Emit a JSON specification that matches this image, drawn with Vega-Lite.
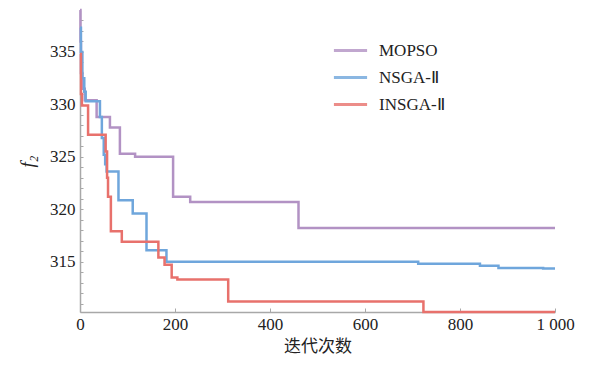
{
  "$schema": "https://vega.github.io/schema/vega-lite/v6.json",
  "autosize": {"type": "none"},
  "width": 475,
  "height": 302,
  "padding": {"left": 80, "top": 10, "right": 34, "bottom": 55},
  "background": "white",
  "config": {
    "view": {"stroke": null},
    "font": "Times New Roman, Liberation Serif, serif"
  },
  "data": {
    "values": [
      {"alg": "MOPSO", "iter": 0, "f2": 339},
      {"alg": "MOPSO", "iter": 1, "f2": 336},
      {"alg": "MOPSO", "iter": 2, "f2": 333},
      {"alg": "MOPSO", "iter": 5, "f2": 331.5},
      {"alg": "MOPSO", "iter": 10, "f2": 330.4},
      {"alg": "MOPSO", "iter": 35, "f2": 328.8},
      {"alg": "MOPSO", "iter": 63, "f2": 327.8},
      {"alg": "MOPSO", "iter": 84, "f2": 325.3},
      {"alg": "MOPSO", "iter": 116, "f2": 325.0},
      {"alg": "MOPSO", "iter": 196, "f2": 321.2},
      {"alg": "MOPSO", "iter": 232, "f2": 320.7},
      {"alg": "MOPSO", "iter": 460, "f2": 318.2},
      {"alg": "MOPSO", "iter": 1000, "f2": 318.2},

      {"alg": "NSGA-Ⅱ", "iter": 0, "f2": 337.3},
      {"alg": "NSGA-Ⅱ", "iter": 2, "f2": 335},
      {"alg": "NSGA-Ⅱ", "iter": 5, "f2": 332.5},
      {"alg": "NSGA-Ⅱ", "iter": 9, "f2": 331.2},
      {"alg": "NSGA-Ⅱ", "iter": 12, "f2": 330.3},
      {"alg": "NSGA-Ⅱ", "iter": 42, "f2": 328.8},
      {"alg": "NSGA-Ⅱ", "iter": 46, "f2": 326.8},
      {"alg": "NSGA-Ⅱ", "iter": 50, "f2": 325.2},
      {"alg": "NSGA-Ⅱ", "iter": 53, "f2": 324.3},
      {"alg": "NSGA-Ⅱ", "iter": 56, "f2": 323.6},
      {"alg": "NSGA-Ⅱ", "iter": 81, "f2": 320.85},
      {"alg": "NSGA-Ⅱ", "iter": 111, "f2": 319.6},
      {"alg": "NSGA-Ⅱ", "iter": 140, "f2": 316.1},
      {"alg": "NSGA-Ⅱ", "iter": 182, "f2": 315.0},
      {"alg": "NSGA-Ⅱ", "iter": 712, "f2": 314.8},
      {"alg": "NSGA-Ⅱ", "iter": 842, "f2": 314.6},
      {"alg": "NSGA-Ⅱ", "iter": 881, "f2": 314.4},
      {"alg": "NSGA-Ⅱ", "iter": 975, "f2": 314.35},
      {"alg": "NSGA-Ⅱ", "iter": 1000, "f2": 314.35},

      {"alg": "INSGA-Ⅱ", "iter": 0, "f2": 334.8},
      {"alg": "INSGA-Ⅱ", "iter": 2, "f2": 331},
      {"alg": "INSGA-Ⅱ", "iter": 4, "f2": 329.9},
      {"alg": "INSGA-Ⅱ", "iter": 17, "f2": 327.1},
      {"alg": "INSGA-Ⅱ", "iter": 54, "f2": 325.5},
      {"alg": "INSGA-Ⅱ", "iter": 57, "f2": 323},
      {"alg": "INSGA-Ⅱ", "iter": 59, "f2": 321.2},
      {"alg": "INSGA-Ⅱ", "iter": 65, "f2": 317.9},
      {"alg": "INSGA-Ⅱ", "iter": 88, "f2": 316.9},
      {"alg": "INSGA-Ⅱ", "iter": 165, "f2": 315.4},
      {"alg": "INSGA-Ⅱ", "iter": 178, "f2": 314.7},
      {"alg": "INSGA-Ⅱ", "iter": 193, "f2": 313.5},
      {"alg": "INSGA-Ⅱ", "iter": 205, "f2": 313.3},
      {"alg": "INSGA-Ⅱ", "iter": 312, "f2": 311.2},
      {"alg": "INSGA-Ⅱ", "iter": 723, "f2": 310.2},
      {"alg": "INSGA-Ⅱ", "iter": 1000, "f2": 310.2}
    ]
  },
  "mark": {"type": "line", "interpolate": "step-after", "strokeWidth": 2.5, "clip": false},
  "encoding": {
    "x": {
      "field": "iter", "type": "quantitative",
      "scale": {"domain": [0, 1000], "nice": false},
      "axis": {
        "values": [0, 200, 400, 600, 800, 1000],
        "labelExpr": "datum.value >= 1000 ? '1 000' : datum.label",
        "title": "迭代次数",
        "titleFont": "Noto Sans CJK SC",
        "titleFontWeight": "normal",
        "titleFontSize": 17,
        "titleColor": "#222",
        "titlePadding": 6,
        "labelFont": "Times New Roman, Liberation Serif, serif",
        "labelFontSize": 17,
        "labelColor": "#222",
        "labelPadding": 8,
        "labelFlush": false,
        "labelOverlap": false,
        "grid": false,
        "domainColor": "#a8a8a8",
        "domainWidth": 1.5,
        "tickSize": -4,
        "tickColor": "#a8a8a8"
      }
    },
    "y": {
      "field": "f2", "type": "quantitative",
      "scale": {"domain": [310.2, 339], "nice": false, "zero": false},
      "axis": {
        "values": [311, 312, 313, 314, 315, 316, 317, 318, 319, 320, 321, 322, 323, 324, 325, 326, 327, 328, 329, 330, 331, 332, 333, 334, 335, 336, 337, 338],
        "labelExpr": "datum.value % 5 === 0 ? datum.label : ''",
        "title": "f₂",
        "titleFont": "Times New Roman, Liberation Serif, serif",
        "titleFontStyle": "italic",
        "titleFontWeight": "normal",
        "titleFontSize": 19,
        "titleColor": "#222",
        "titlePadding": 12,
        "labelFont": "Times New Roman, Liberation Serif, serif",
        "labelFontSize": 17,
        "labelColor": "#222",
        "labelPadding": 8,
        "labelOverlap": false,
        "grid": false,
        "domainColor": "#a8a8a8",
        "domainWidth": 1.5,
        "tickSize": -3,
        "tickColor": "#a8a8a8"
      }
    },
    "color": {
      "field": "alg", "type": "nominal",
      "scale": {"domain": ["MOPSO", "NSGA-Ⅱ", "INSGA-Ⅱ"], "range": ["#b292c4", "#6fa6dc", "#e8716c"]},
      "legend": {
        "title": null,
        "orient": "none",
        "legendX": 252,
        "legendY": 22,
        "symbolType": "stroke",
        "symbolSize": 1100,
        "symbolStrokeWidth": 3,
        "symbolOpacity": 0.8,
        "labelFont": "Times New Roman, Liberation Serif, serif",
        "labelFontSize": 17,
        "labelColor": "#222",
        "labelOffset": 10,
        "rowPadding": 0
      }
    },
    "order": {"field": "iter", "type": "quantitative"}
  }
}
